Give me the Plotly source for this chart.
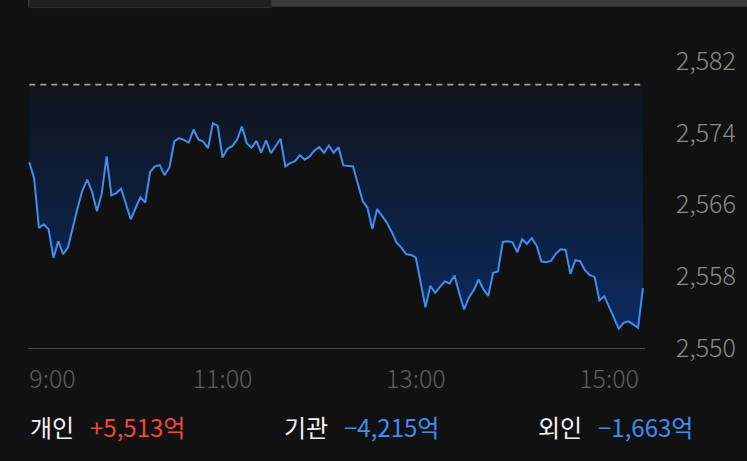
import plotly.graph_objects as go

DAY = "2024-01-02 "

times = [
    "09:00", "09:03", "09:06", "09:09", "09:12", "09:15", "09:18", "09:21", "09:24", "09:27",
    "09:30", "09:33", "09:36", "09:39", "09:42", "09:45", "09:48", "09:51", "09:54", "09:57",
    "10:00", "10:03", "10:06", "10:09", "10:12", "10:15", "10:18", "10:21", "10:24", "10:27",
    "10:30", "10:33", "10:36", "10:39", "10:42", "10:45", "10:48", "10:51", "10:54", "10:57",
    "11:00", "11:03", "11:06", "11:09", "11:12", "11:15", "11:18", "11:21", "11:24", "11:27",
    "11:30", "11:33", "11:36", "11:39", "11:42", "11:45", "11:48", "11:51", "11:54", "11:57",
    "12:00", "12:03", "12:06", "12:09", "12:12", "12:15", "12:18", "12:21", "12:24", "12:27",
    "12:30", "12:33", "12:36", "12:39", "12:42", "12:45", "12:48", "12:51", "12:54", "12:57",
    "13:00", "13:03", "13:06", "13:09", "13:12", "13:15", "13:18", "13:21", "13:24", "13:27",
    "13:30", "13:33", "13:36", "13:39", "13:42", "13:45", "13:48", "13:51", "13:54", "13:57",
    "14:00", "14:03", "14:06", "14:09", "14:12", "14:15", "14:18", "14:21", "14:24", "14:27",
    "14:30", "14:33", "14:36", "14:39", "14:42", "14:45", "14:48", "14:51", "14:54", "14:57",
    "15:00", "15:03", "15:06", "15:09", "15:12", "15:15", "15:18", "15:21",
]

prices = [
    2570.72, 2568.94, 2563.38, 2563.79, 2563.24, 2560.04, 2561.90, 2560.46, 2561.20, 2563.49,
    2565.61, 2567.58, 2568.77, 2567.39, 2565.24, 2567.21, 2571.36, 2567.02, 2567.27, 2567.76,
    2566.10, 2564.35, 2565.61, 2566.80, 2566.21, 2569.61, 2570.24, 2570.39, 2569.28, 2570.10,
    2573.03, 2573.39, 2573.21, 2572.91, 2574.36, 2573.25, 2573.03, 2572.28, 2575.06, 2574.77,
    2571.25, 2572.21, 2572.50, 2573.21, 2574.69, 2572.84, 2572.32, 2573.10, 2571.77, 2573.14,
    2571.72, 2572.47, 2573.33, 2570.24, 2570.61, 2570.83, 2571.50, 2570.99, 2571.36, 2571.99,
    2572.39, 2571.77, 2572.58, 2571.77, 2572.39, 2570.36, 2570.28, 2570.24, 2568.32, 2566.38,
    2565.61, 2563.27, 2565.49, 2564.76, 2563.98, 2562.94, 2561.76, 2561.20, 2560.46, 2560.38,
    2560.09, 2557.31, 2554.53, 2556.93, 2556.15, 2556.82, 2557.42, 2557.20, 2558.09, 2556.08,
    2554.30, 2555.64, 2556.45, 2557.64, 2556.53, 2555.82, 2558.38, 2558.53, 2561.82, 2561.90,
    2561.79, 2560.68, 2562.12, 2561.60, 2562.24, 2561.42, 2559.64, 2559.57, 2559.71, 2560.53,
    2561.01, 2560.93, 2558.26, 2559.79, 2559.68, 2558.68, 2558.12, 2557.93, 2555.31, 2555.78,
    2554.53, 2553.26, 2552.15, 2552.81, 2552.97, 2552.64, 2552.26, 2556.67,
]

prev_close = 2579.37

y_ticks = [2550, 2558, 2566, 2574, 2582]
x_ticks = ["11:00", "13:00", "15:00"]
x_first_tick = "09:00"
x_range = ["08:59:12", "15:22:18"]

flows = [
    ("개인", "+5,513억", "#f0463c"),
    ("기관", "−4,215억", "#3e8ef0"),
    ("외인", "−1,663억", "#3e8ef0"),
]

BG = "#111111"
FONT = "Noto Sans CJK KR"
xs = [DAY + t for t in times]

fig = go.Figure()
# previous close (dashed reference) - also the fill base
fig.add_trace(go.Scatter(
    x=[xs[0], xs[-1]], y=[prev_close, prev_close], mode="lines",
    line=dict(color="#a0a0a0", width=1.6, dash="6px,5px"), hoverinfo="skip",
))
fig.add_trace(go.Scatter(
    x=xs, y=prices, mode="lines",
    line=dict(color="#3f8ef2", width=2),
    fill="tonexty",
    fillgradient=dict(type="vertical",
                      colorscale=[[0, "#0a2c62"], [1, "#10141c"]],
                      start=2550, stop=prev_close),
    hoverinfo="skip",
))
fig.add_trace(go.Scatter(
    x=[xs[0]], y=[prices[0]], xaxis="x2", mode="markers",
    marker=dict(opacity=0), hoverinfo="skip",
))

tickfont_x = dict(family=FONT, size=25, color="#5e5e5e", weight=300)
tickfont_y = dict(family=FONT, size=25, color="#8a8a8a", weight=300)

fig.update_layout(
    width=747, height=461,
    paper_bgcolor=BG, plot_bgcolor=BG,
    margin=dict(l=28, r=102, t=61, b=113, pad=0),
    showlegend=False,
    xaxis=dict(
        type="date", range=[DAY + x_range[0], DAY + x_range[1]],
        tickvals=[DAY + t for t in x_ticks], tickformat="%-H:%M",
        showgrid=False, zeroline=False, showline=True,
        linecolor="#4a4a4a", linewidth=1, ticks="",
        tickfont=tickfont_x, ticklabelstandoff=9, fixedrange=True,
    ),
    xaxis2=dict(
        type="date", overlaying="x", matches="x", anchor="y", side="bottom",
        tickvals=[DAY + x_first_tick], tickformat="%-H:%M",
        ticklabelposition="outside right",
        showgrid=False, zeroline=False, showline=False, ticks="",
        tickfont=tickfont_x, ticklabelstandoff=14,
    ),
    yaxis=dict(
        side="right", range=[2550, 2582], tickvals=y_ticks, tickformat=",d",
        showgrid=False, zeroline=False, showline=False, ticks="",
        tickfont=tickfont_y, ticklabelstandoff=30, fixedrange=True,
    ),
)

# bottom investor flow texts
lefts = [(0.0, 0.0972), (0.4117, 0.5089), (0.8233, 0.9206)]
for (label, value, color), (xl, xv) in zip(flows, lefts):
    fig.add_annotation(x=xl, y=-0.272, xref="paper", yref="paper", text=label,
                       showarrow=False, xanchor="left", yanchor="middle",
                       font=dict(family=FONT, size=24, color="#f2f2f2"))
    fig.add_annotation(x=xv, y=-0.272, xref="paper", yref="paper", text=value,
                       showarrow=False, xanchor="left", yanchor="middle",
                       font=dict(family=FONT, size=24, color=color))

# top UI strip
fig.add_shape(type="rect", xref="paper", yref="paper", x0=0, x1=1.17, y0=1.189, y1=1.25,
              fillcolor="#3a3a3a", line=dict(width=0), layer="above")
fig.add_shape(type="rect", xref="paper", yref="paper", x0=0.002, x1=0.394, y0=1.186, y1=1.25,
              fillcolor="#202020", line=dict(width=1, color="#2c2c2c"), layer="above")

fig.write_html("out.html", config={"displayModeBar": False},
               post_script="document.body.style.margin='0';document.body.style.background='#111111';")
